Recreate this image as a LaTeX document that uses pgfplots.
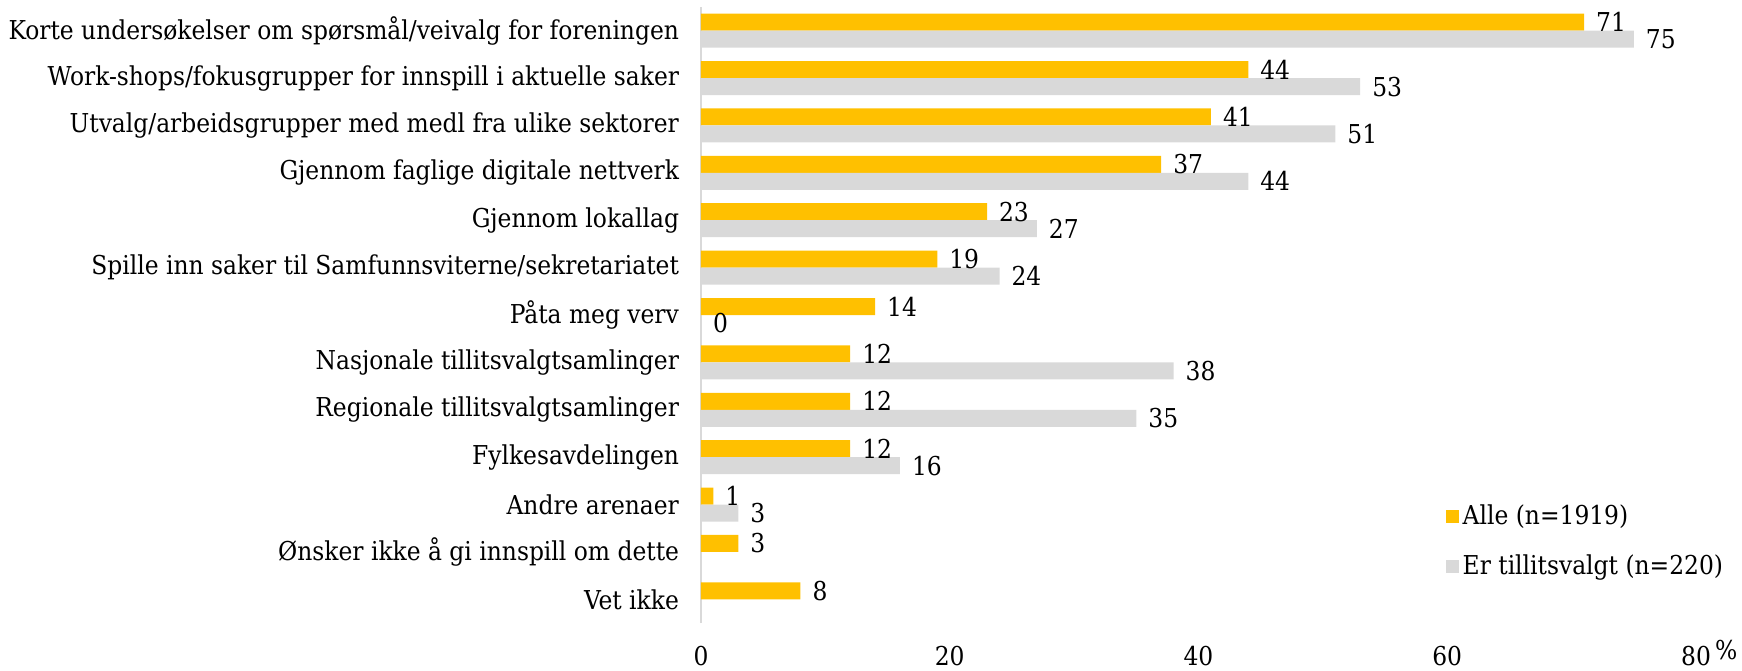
\documentclass[border=0pt,12pt]{standalone}
\usepackage{fontspec}
\setmainfont{DejaVu Serif Condensed}
\usepackage{pgfplots}
\pgfplotsset{compat=1.18}
\usetikzlibrary{calc}
\definecolor{orng}{HTML}{FFC000}
\definecolor{lgray}{HTML}{D9D9D9}
\begin{document}
\fontsize{13}{15.6}\selectfont
\begin{tikzpicture}
\begin{axis}[
  scale only axis, width=497.5pt, height=308pt,
  xbar, bar width=8.5pt,
  xmin=0, xmax=80, ymin=-0.5, ymax=12.5,
  axis x line*=bottom, axis y line*=left,
  x axis line style={draw=none},
  y axis line style={draw=lgray, line width=1.2pt},
  axis line style={-},
  major tick length=0pt,
  xtick={0,20,40,60,80},
  xticklabels={0,20,40,60,{80\rlap{\smash{\raisebox{3pt}{\,\%}}}}},
  xticklabel style={yshift=-7pt},
  /pgf/number format/assume math mode=true,
  ytick={0,...,12},
  yticklabels={Vet ikke,
    Ønsker ikke å gi innspill om dette,
    Andre arenaer,
    Fylkesavdelingen,
    Regionale tillitsvalgtsamlinger\ ,
    Nasjonale tillitsvalgtsamlinger\ ,
    Påta meg verv,
    Spille inn saker til Samfunnsviterne/sekretariatet,
    Gjennom lokallag,
    Gjennom faglige digitale nettverk,
    Utvalg/arbeidsgrupper med medl fra ulike sektorer,
    Work-shops/fokusgrupper for innspill i aktuelle saker\ ,
    Korte undersøkelser om spørsmål/veivalg for foreningen},
  yticklabel style={xshift=-6.5pt},
  nodes near coords,
  every node near coord/.append style={anchor=west, xshift=1.5pt, text=black},
  legend style={at={(rel axis cs:0.742,0.205)}, anchor=north west, draw=none, fill=none, row sep=9pt},
  legend cell align=left,
  legend image code/.code={\fill[#1] (0pt,-3.25pt) rectangle (6.5pt,3.25pt);},
]
\addplot[fill=orng, draw=none, bar shift=4.25pt] coordinates {
  (71,12) (44,11) (41,10) (37,9) (23,8) (19,7) (14,6) (12,5) (12,4) (12,3) (1,2) (3,1) (8,0)};
\addlegendentry{Alle (n=1919)}
\addplot[fill=lgray, draw=none, bar shift=-4.25pt] coordinates {
  (75,12) (53,11) (51,10) (44,9) (27,8) (24,7) (0,6) (38,5) (35,4) (16,3) (3,2)};
\addlegendentry{Er tillitsvalgt (n=220)}
\end{axis}
\pgfresetboundingbox
\path[use as bounding box] ($(current axis.south west)+(-350.5pt,-23.5pt)$) rectangle ($(current axis.north east)+(23pt,3.5pt)$);
\end{tikzpicture}
\end{document}
